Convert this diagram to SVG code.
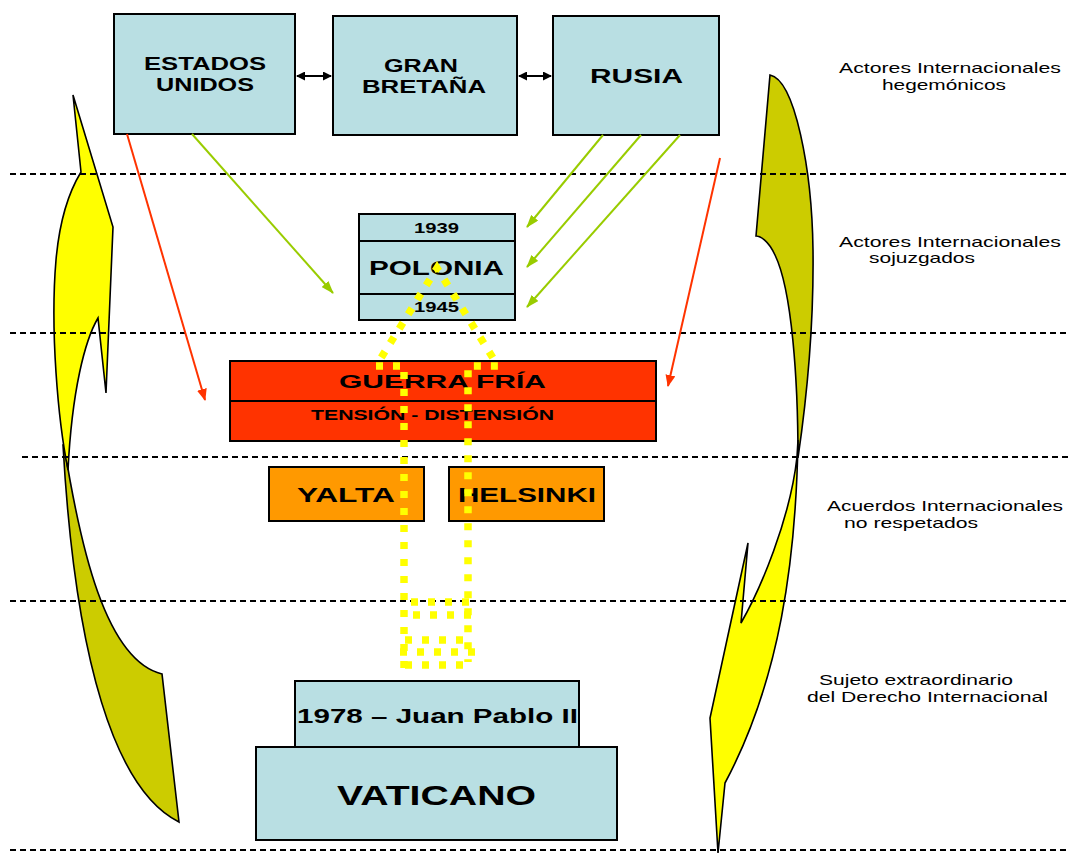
<svg xmlns="http://www.w3.org/2000/svg" width="1069" height="854" viewBox="0 0 1069 854">
<style>
.box{fill:#B9DFE3;stroke:#000;stroke-width:2}
.red{fill:#FF3300;stroke:#000;stroke-width:2}
.org{fill:#FF9900;stroke:#000;stroke-width:2}
.div{stroke:#000;stroke-width:2}
.t{font-family:"Liberation Sans",Arial,sans-serif;font-weight:bold;fill:#000}
.lab{font-family:"Liberation Sans",Arial,sans-serif;font-size:15px;fill:#000}
.dash{stroke:#000;stroke-width:1.8;stroke-dasharray:6 4;fill:none}
.dot{stroke:#FFFF00;stroke-width:7.5;stroke-dasharray:7 10;fill:none}
.shape{stroke:#000;stroke-width:1.6;stroke-linejoin:miter}
.rl{stroke:#FF3300;stroke-width:2;fill:none}
.gl{stroke:#99CC00;stroke-width:2;fill:none}
.bl{stroke:#000;stroke-width:2;fill:none}
</style>
<defs>
<marker id="mr" markerUnits="userSpaceOnUse" markerWidth="12" markerHeight="10" refX="11" refY="5" orient="auto"><path d="M0,0 L12,5 L0,10 z" fill="#FF3300"/></marker>
<marker id="mg" markerUnits="userSpaceOnUse" markerWidth="13" markerHeight="9" refX="12" refY="4.5" orient="auto"><path d="M0,0 L13,4.5 L0,9 z" fill="#99CC00"/></marker>
<marker id="mb" markerUnits="userSpaceOnUse" markerWidth="9" markerHeight="9" refX="8" refY="4.5" orient="auto-start-reverse"><path d="M0,0 L9,4.5 L0,9 z" fill="#000"/></marker>
</defs>
<rect width="1069" height="854" fill="#fff"/>

<g id="side-arrows">
<path class="shape" fill="#CCCC00" d="M64,445 C80,545 105,660 162,674 L179,822 C115,790 75,660 63,445 Z"/>
<path class="shape" fill="#FFFF00" d="M73,95 L113,227 L106,393 L98,318 C85,340 72,390 68,470 C58,420 50,330 56,260 C60,215 70,190 81,172 Z"/>
<path class="shape" fill="#CCCC00" d="M770,75 C795,80 812,170 813,250 C814,330 805,410 798,458 C798,380 792,290 775,255 C768,240 760,236 756,236 Z"/>
<path class="shape" fill="#FFFF00" d="M798,440 C796,560 780,680 725,783 L718,853 L710,718 L748,543 L741,623 C760,590 790,520 797,457 Z"/>
</g>

<g id="separators">
<line class="dash" x1="10" y1="174" x2="1069" y2="174"/>
<line class="dash" x1="10" y1="333" x2="1069" y2="333"/>
<line class="dash" x1="22" y1="457" x2="1069" y2="457"/>
<line class="dash" x1="10" y1="601" x2="1069" y2="601"/>
<line class="dash" x1="10" y1="850" x2="1069" y2="850"/>
</g>

<g id="n-eeuu">
<rect class="box" x="114" y="14" width="181" height="120"/>
<text class="t" font-size="18" x="144" y="70" textLength="122" lengthAdjust="spacingAndGlyphs">ESTADOS</text>
<text class="t" font-size="18" x="156" y="91" textLength="98" lengthAdjust="spacingAndGlyphs">UNIDOS</text>
</g>
<g id="n-gb">
<rect class="box" x="333" y="16" width="184" height="119"/>
<text class="t" font-size="18" x="384" y="72" textLength="74" lengthAdjust="spacingAndGlyphs">GRAN</text>
<text class="t" font-size="18" x="362" y="93" textLength="124" lengthAdjust="spacingAndGlyphs">BRETAÑA</text>
</g>
<g id="n-rusia">
<rect class="box" x="553" y="16" width="166" height="119"/>
<text class="t" font-size="21" x="590" y="83" textLength="93" lengthAdjust="spacingAndGlyphs">RUSIA</text>
</g>
<g id="n-polonia">
<rect class="box" x="359" y="214" width="156" height="106"/>
<line class="div" x1="359" y1="241" x2="515" y2="241"/>
<line class="div" x1="359" y1="294" x2="515" y2="294"/>
<text class="t" font-size="15" x="414" y="233" textLength="45" lengthAdjust="spacingAndGlyphs">1939</text>
<text class="t" font-size="21" x="369" y="275" textLength="135" lengthAdjust="spacingAndGlyphs">POLONIA</text>
<text class="t" font-size="15" x="414" y="312" textLength="45" lengthAdjust="spacingAndGlyphs">1945</text>
</g>
<g id="n-guerra">
<rect class="red" x="230" y="361" width="426" height="80"/>
<line class="div" x1="230" y1="401" x2="656" y2="401"/>
<text class="t" font-size="19" x="339" y="388" textLength="207" lengthAdjust="spacingAndGlyphs">GUERRA FRÍA</text>
<text class="t" font-size="15" x="311" y="420" textLength="243" lengthAdjust="spacingAndGlyphs">TENSIÓN - DISTENSIÓN</text>
</g>
<g id="n-yalta">
<rect class="org" x="269" y="467" width="155" height="54"/>
<text class="t" font-size="20" x="297" y="502" textLength="98" lengthAdjust="spacingAndGlyphs">YALTA</text>
</g>
<g id="n-helsinki">
<rect class="org" x="449" y="467" width="155" height="54"/>
<text class="t" font-size="20" x="458" y="502" textLength="138" lengthAdjust="spacingAndGlyphs">HELSINKI</text>
</g>
<g id="n-jp2">
<rect class="box" x="295" y="681" width="284" height="66"/>
<text class="t" font-size="20" x="297" y="723" textLength="281" lengthAdjust="spacingAndGlyphs">1978 – Juan Pablo II</text>
</g>
<g id="n-vaticano">
<rect class="box" x="256" y="747" width="361" height="93"/>
<text class="t" font-size="28" x="337" y="805" textLength="199" lengthAdjust="spacingAndGlyphs">VATICANO</text>
</g>

<g id="connectors">
<line class="bl" x1="297" y1="76" x2="331" y2="76" marker-start="url(#mb)" marker-end="url(#mb)"/>
<line class="bl" x1="519" y1="76" x2="551" y2="76" marker-start="url(#mb)" marker-end="url(#mb)"/>
<line class="rl" x1="127" y1="134" x2="205" y2="400" marker-end="url(#mr)"/>
<line class="rl" x1="720" y1="158" x2="668" y2="386" marker-end="url(#mr)"/>
<line class="gl" x1="192" y1="134" x2="333" y2="293" marker-end="url(#mg)"/>
<line class="gl" x1="603" y1="135" x2="527" y2="227" marker-end="url(#mg)"/>
<line class="gl" x1="641" y1="135" x2="527" y2="267" marker-end="url(#mg)"/>
<line class="gl" x1="680" y1="135" x2="527" y2="307" marker-end="url(#mg)"/>
</g>

<g id="dotted-path">
<path class="dot" d="M404,668 L404,366 L376,366 L437,268 L498,366 L468,366 L468,662"/>
<line class="dot" x1="411" y1="602" x2="472" y2="602"/>
<line class="dot" x1="413" y1="615" x2="474" y2="615"/>
<line class="dot" x1="405" y1="640" x2="466" y2="640"/>
<line class="dot" x1="400" y1="652" x2="476" y2="652"/>
<line class="dot" x1="405" y1="665" x2="466" y2="665"/>
</g>

<g id="labels">
<text class="lab" x="839" y="73" textLength="222" lengthAdjust="spacingAndGlyphs">Actores Internacionales</text>
<text class="lab" x="882" y="90" textLength="124" lengthAdjust="spacingAndGlyphs">hegemónicos</text>
<text class="lab" x="839" y="247" textLength="222" lengthAdjust="spacingAndGlyphs">Actores Internacionales</text>
<text class="lab" x="869" y="263" textLength="106" lengthAdjust="spacingAndGlyphs">sojuzgados</text>
<text class="lab" x="827" y="511" textLength="236" lengthAdjust="spacingAndGlyphs">Acuerdos Internacionales</text>
<text class="lab" x="844" y="528" textLength="134" lengthAdjust="spacingAndGlyphs">no respetados</text>
<text class="lab" x="819" y="685" textLength="194" lengthAdjust="spacingAndGlyphs">Sujeto extraordinario</text>
<text class="lab" x="807" y="702" textLength="241" lengthAdjust="spacingAndGlyphs">del Derecho Internacional</text>
</g>
</svg>
